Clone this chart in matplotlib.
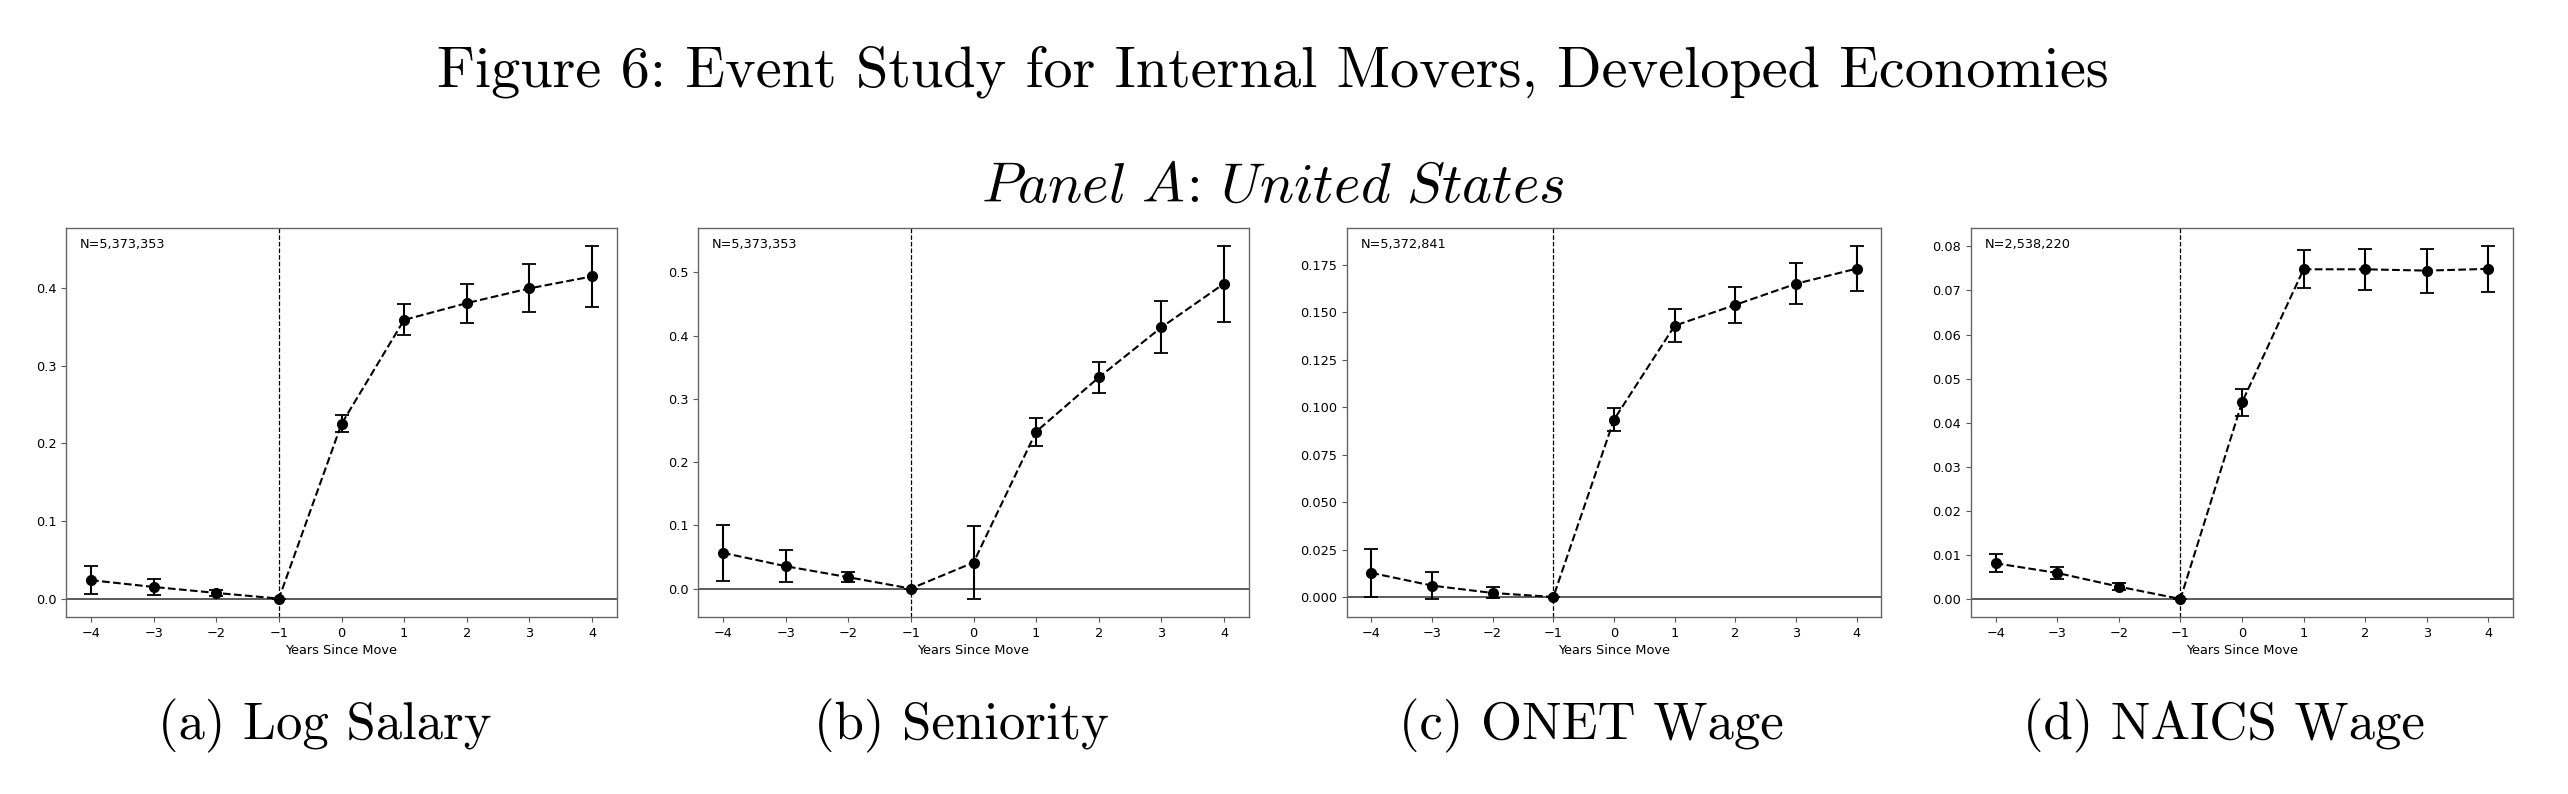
import numpy as np
import matplotlib
matplotlib.use("Agg")
from matplotlib import pyplot as plt

plt.rcParams['mathtext.fontset'] = 'cm'

years = [-4, -3, -2, -1, 0, 1, 2, 3, 4]

# coefficient and half-width of the 95% interval
salary = [0.0237, 0.015, 0.0073, 0.0, 0.225, 0.359, 0.3806, 0.3996, 0.415]
salary_err = [0.018, 0.010, 0.004, 0.0, 0.011, 0.020, 0.025, 0.031, 0.039]

seniority = [0.0565, 0.0354, 0.018, 0.0, 0.0412, 0.248, 0.3337, 0.4129, 0.482]
seniority_err = [0.044, 0.025, 0.008, 0.0, 0.057, 0.022, 0.025, 0.041, 0.060]

onet = [0.0127, 0.006, 0.0021, 0.0, 0.0935, 0.143, 0.154, 0.1651, 0.1731]
onet_err = [0.0128, 0.007, 0.0029, 0.0, 0.006, 0.0087, 0.0096, 0.0107, 0.0118]

naics = [0.0081, 0.0059, 0.0028, 0.0, 0.0446, 0.0748, 0.0748, 0.0745, 0.0749]
naics_err = [0.002, 0.0013, 0.0008, 0.0, 0.003, 0.0043, 0.0046, 0.005, 0.0052]

n_obs = ["N=5,373,353", "N=5,373,353", "N=5,372,841", "N=2,538,220"]
captions = ["(a) Log Salary", "(b) Seniority", "(c) ONET Wage", "(d) NAICS Wage"]

W, H = 2568, 794
fig = plt.figure(figsize=(W / 100, H / 100), dpi=100)

# axes boxes in pixels: left, right
boxes = [(66, 617), (698, 1249), (1347, 1881), (1971, 2513)]
top_px, bot_px = 228, 617
ylims = [(-0.0237, 0.4774), (-0.0449, 0.570), (-0.01056, 0.1945), (-0.00409, 0.08417)]
cap_x = [325, 961, 1591, 2224]

series = [(salary, salary_err), (seniority, seniority_err),
          (onet, onet_err), (naics, naics_err)]

for i, (coef, err) in enumerate(series):
    l, r = boxes[i]
    ax = fig.add_axes([l / W, 1 - bot_px / H, (r - l) / W, (bot_px - top_px) / H])
    ax.axhline(0, color='0.25', lw=1.2, zorder=1)
    ax.axvline(-1, color='k', lw=0.9, ls='--', zorder=1)
    ax.errorbar(years, coef, yerr=err, fmt='o--', color='k', lw=1.5,
                ms=7, capsize=5, elinewidth=1.5, capthick=1.3, zorder=3)
    ax.set_xlim(-4.4, 4.4)
    ax.set_ylim(*ylims[i])
    ax.set_xticks(years)
    ax.set_xlabel("Years Since Move", fontsize=9.3, labelpad=3)
    ax.tick_params(labelsize=9.3, length=3.5, width=0.8, color='0.35', pad=3.5)
    for s in ax.spines.values():
        s.set_color('0.4')
        s.set_linewidth(1.0)
    ax.text(0.025, 0.975, n_obs[i], transform=ax.transAxes, fontsize=9.3,
            va='top', ha='left')
    fig.text(cap_x[i] / W, 1 - 739 / H, captions[i], family='cmr10',
             fontsize=38, ha='center', va='baseline')

fig.text(1273 / W, 1 - 87 / H,
         "Figure 6: Event Study for Internal Movers, Developed Economies",
         family='cmr10', fontsize=42, ha='center', va='baseline')
fig.text(1273 / W, 1 - 202 / H, r"$\mathit{Panel\ A\!:\!\ United\ States}$",
         fontsize=41, ha='center', va='baseline')

fig.savefig("out.png", dpi=100)
